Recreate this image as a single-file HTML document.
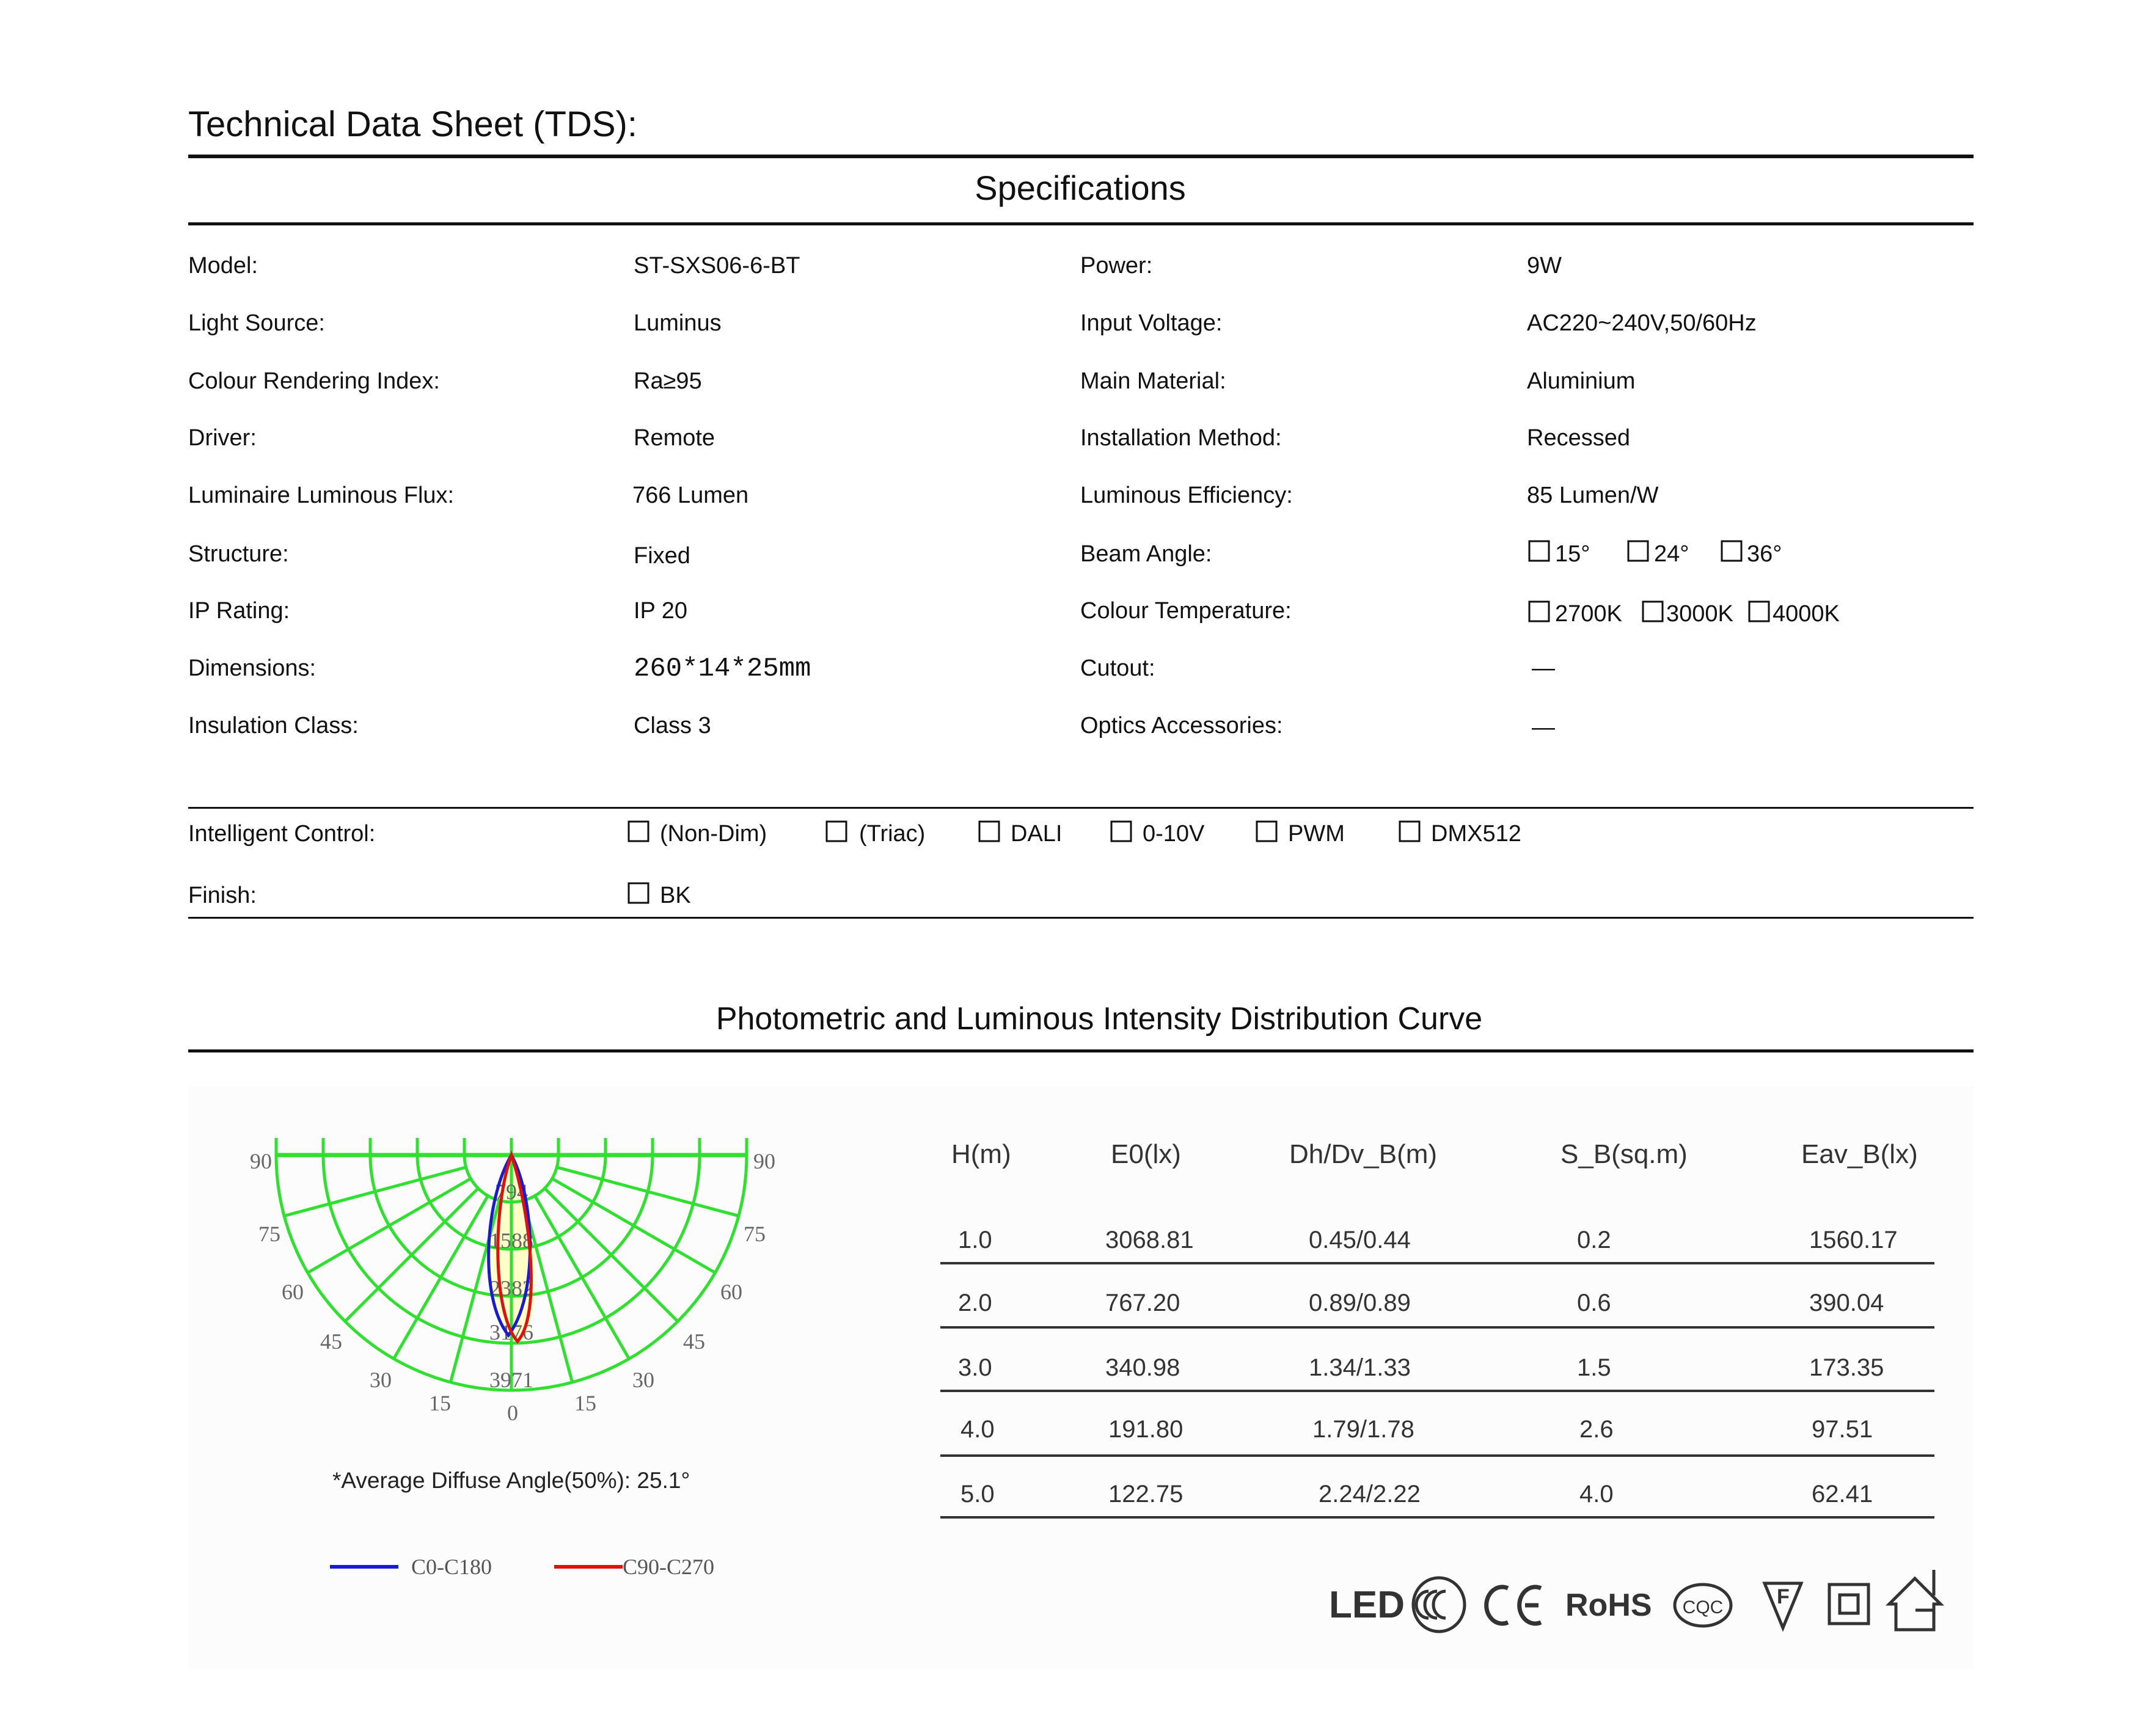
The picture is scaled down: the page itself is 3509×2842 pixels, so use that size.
<!DOCTYPE html>
<html><head><meta charset="utf-8"><style>html,body{margin:0;padding:0;background:#fff}svg{display:block}</style></head><body>
<svg xmlns="http://www.w3.org/2000/svg" width="3509" height="2842" viewBox="0 0 3509 2842">
<rect width="3509" height="2842" fill="#fff"/>
<g font-family="Liberation Sans, sans-serif" fill="#111">
<text x="308" y="223" font-size="58">Technical  Data Sheet (TDS):</text>
<rect x="308" y="253" width="2922" height="6" fill="#111"/>
<text x="1768" y="327" font-size="56" text-anchor="middle">Specifications</text>
<rect x="308" y="364" width="2922" height="5" fill="#111"/>
<g font-size="38">
<text x="308" y="447">Model:</text><text x="1037" y="447">ST-SXS06-6-BT</text><text x="1768" y="447">Power:</text><text x="2499" y="447">9W</text>
<text x="308" y="541">Light Source:</text><text x="1037" y="541">Luminus</text><text x="1768" y="541">Input Voltage:</text><text x="2499" y="541">AC220~240V,50/60Hz</text>
<text x="308" y="636">Colour Rendering Index:</text><text x="1037" y="636">Ra≥95</text><text x="1768" y="636">Main Material:</text><text x="2499" y="636">Aluminium</text>
<text x="308" y="729">Driver:</text><text x="1037" y="729">Remote</text><text x="1768" y="729">Installation Method:</text><text x="2499" y="729">Recessed</text>
<text x="308" y="823">Luminaire Luminous Flux:</text><text x="1035" y="823">766  Lumen</text><text x="1768" y="823">Luminous Efficiency:</text><text x="2499" y="823">85  Lumen/W</text>
<text x="308" y="919">Structure:</text><text x="1037" y="922">Fixed</text><text x="1768" y="919">Beam Angle:</text>
<text x="2545" y="919">15°</text><text x="2707" y="919">24°</text><text x="2859" y="919">36°</text>
<text x="308" y="1012">IP Rating:</text><text x="1037" y="1012">IP 20</text><text x="1768" y="1012">Colour Temperature:</text>
<text x="2545" y="1017">2700K</text><text x="2727" y="1017">3000K</text><text x="2901" y="1017">4000K</text>
<text x="308" y="1106">Dimensions:</text><text x="1037" y="1106" font-family="Liberation Mono, monospace" font-size="44">260*14*25mm</text><text x="1768" y="1106">Cutout:</text><text x="2507" y="1106">—</text>
<text x="308" y="1200">Insulation Class:</text><text x="1037" y="1200">Class 3</text><text x="1768" y="1200">Optics Accessories:</text><text x="2507" y="1203">—</text>
</g>
<g fill="none" stroke="#111" stroke-width="3">
<rect x="2503" y="886" width="32" height="32"/><rect x="2665" y="886" width="32" height="32"/><rect x="2818" y="886" width="32" height="32"/>
<rect x="2503" y="985" width="32" height="32"/><rect x="2689" y="985" width="32" height="32"/><rect x="2863" y="985" width="32" height="32"/>
</g>
<rect x="308" y="1321" width="2922" height="3" fill="#111"/>
<g font-size="38">
<text x="308" y="1377">Intelligent Control:</text>
<text x="1080" y="1377">(Non-Dim)</text><text x="1406" y="1377">(Triac)</text><text x="1654" y="1377">DALI</text><text x="1870" y="1377">0-10V</text><text x="2108" y="1377">PWM</text><text x="2342" y="1377">DMX512</text>
<text x="308" y="1478">Finish:</text><text x="1080" y="1478">BK</text>
</g>
<g fill="none" stroke="#111" stroke-width="3">
<rect x="1029" y="1345" width="32" height="32"/><rect x="1353" y="1345" width="32" height="32"/><rect x="1603" y="1345" width="32" height="32"/><rect x="1819" y="1345" width="32" height="32"/><rect x="2057" y="1345" width="32" height="32"/><rect x="2291" y="1345" width="32" height="32"/>
<rect x="1029" y="1446" width="32" height="32"/>
</g>
<rect x="308" y="1501" width="2922" height="3" fill="#111"/>
<text x="1799" y="1685" font-size="52" text-anchor="middle">Photometric and Luminous Intensity Distribution Curve</text>
<rect x="308" y="1718" width="2922" height="5" fill="#111"/>
</g>
<rect x="308" y="1778" width="2922" height="955" fill="#fcfcfc"/>
<!-- polar chart -->
<g transform="translate(837,1891)">
<path d="M0,0 C-38,80 -46,230 -2,299 C8,310 20,305 22,300 C55,230 40,80 0,0Z" fill="#ffffc8"/>
<g fill="none" stroke="#2fe02f" stroke-width="5">
<line x1="-385" y1="0" x2="385" y2="0" stroke-width="7"/>
<path d="M-77,0 A77 77 0 0 0 77,0"/><path d="M-154,0 A154 154 0 0 0 154,0"/><path d="M-231,0 A231 231 0 0 0 231,0"/><path d="M-308,0 A308 308 0 0 0 308,0"/><path d="M-385,0 A385 385 0 0 0 385,0"/>
<line x1="0" y1="-28" x2="0" y2="385"/>
<line x1="-77" y1="-28" x2="-77" y2="0"/><line x1="77" y1="-28" x2="77" y2="0"/><line x1="-154" y1="-28" x2="-154" y2="0"/><line x1="154" y1="-28" x2="154" y2="0"/><line x1="-231" y1="-28" x2="-231" y2="0"/><line x1="231" y1="-28" x2="231" y2="0"/><line x1="-308" y1="-28" x2="-308" y2="0"/><line x1="308" y1="-28" x2="308" y2="0"/><line x1="-385" y1="-28" x2="-385" y2="0"/><line x1="385" y1="-28" x2="385" y2="0"/>
<line x1="19.9" y1="74.4" x2="99.6" y2="371.9"/><line x1="-19.9" y1="74.4" x2="-99.6" y2="371.9"/>
<line x1="38.5" y1="66.7" x2="192.5" y2="333.4"/><line x1="-38.5" y1="66.7" x2="-192.5" y2="333.4"/>
<line x1="54.4" y1="54.4" x2="272.2" y2="272.2"/><line x1="-54.4" y1="54.4" x2="-272.2" y2="272.2"/>
<line x1="66.7" y1="38.5" x2="333.4" y2="192.5"/><line x1="-66.7" y1="38.5" x2="-333.4" y2="192.5"/>
<line x1="74.4" y1="19.9" x2="371.9" y2="99.6"/><line x1="-74.4" y1="19.9" x2="-371.9" y2="99.6"/>
</g>
<g font-family="Liberation Serif, serif" font-size="36" fill="#666" text-anchor="middle">
<text x="0" y="72">794</text><text x="0" y="152">1588</text><text x="0" y="230">2382</text><text x="0" y="302">3176</text><text x="0" y="380">3971</text>
</g>
<path d="M0,0 C-42,70 -55,230 -5,295 C45,230 38,70 0,0Z" fill="none" stroke="#1a1ad0" stroke-width="5"/>
<path d="M0,0 C-32,90 -30,260 10,305 C50,260 30,90 0,0Z" fill="none" stroke="#e01010" stroke-width="5"/>
</g>
<g font-family="Liberation Serif, serif" font-size="36" fill="#666" text-anchor="middle">
<text x="427" y="1913">90</text><text x="1251" y="1913">90</text>
<text x="441" y="2032">75</text><text x="1235" y="2032">75</text>
<text x="479" y="2127">60</text><text x="1197" y="2127">60</text>
<text x="542" y="2208">45</text><text x="1136" y="2208">45</text>
<text x="623" y="2271">30</text><text x="1053" y="2271">30</text>
<text x="720" y="2309">15</text><text x="958" y="2309">15</text>
<text x="839" y="2325">0</text>
</g>
<text x="544" y="2436" font-family="Liberation Sans, sans-serif" font-size="37" fill="#222">*Average Diffuse Angle(50%): 25.1°</text>
<rect x="540" y="2562" width="112" height="6" fill="#1a1ad0"/>
<rect x="907" y="2562" width="112" height="6" fill="#e01010"/>
<g font-family="Liberation Serif, serif" font-size="36" fill="#555">
<text x="673" y="2577">C0-C180</text><text x="1019" y="2577">C90-C270</text>
</g>
<!-- table -->
<g font-family="Liberation Sans, sans-serif" font-size="44" fill="#333">
<text x="1557" y="1904">H(m)</text><text x="1818" y="1904">E0(lx)</text><text x="2110" y="1904">Dh/Dv_B(m)</text><text x="2554" y="1904">S_B(sq.m)</text><text x="2948" y="1904">Eav_B(lx)</text>
</g>
<g font-family="Liberation Sans, sans-serif" font-size="40" fill="#333">
<text x="1568" y="2043">1.0</text><text x="1809" y="2043">3068.81</text><text x="2142" y="2043">0.45/0.44</text><text x="2581" y="2043">0.2</text><text x="2961" y="2043">1560.17</text>
<text x="1568" y="2146">2.0</text><text x="1809" y="2146">767.20</text><text x="2142" y="2146">0.89/0.89</text><text x="2581" y="2146">0.6</text><text x="2961" y="2146">390.04</text>
<text x="1568" y="2252">3.0</text><text x="1809" y="2252">340.98</text><text x="2142" y="2252">1.34/1.33</text><text x="2581" y="2252">1.5</text><text x="2961" y="2252">173.35</text>
<text x="1572" y="2353">4.0</text><text x="1814" y="2353">191.80</text><text x="2148" y="2353">1.79/1.78</text><text x="2585" y="2353">2.6</text><text x="2965" y="2353">97.51</text>
<text x="1572" y="2459">5.0</text><text x="1814" y="2459">122.75</text><text x="2158" y="2459">2.24/2.22</text><text x="2585" y="2459">4.0</text><text x="2965" y="2459">62.41</text>
</g>
<g fill="#333">
<rect x="1539" y="2066" width="1627" height="4"/><rect x="1539" y="2171" width="1627" height="4"/><rect x="1539" y="2275" width="1627" height="4"/><rect x="1539" y="2381" width="1627" height="4"/><rect x="1539" y="2482" width="1627" height="4"/>
</g>
<!-- logos -->
<g fill="#333" font-family="Liberation Sans, sans-serif" font-weight="bold">
<text x="2175" y="2648" font-size="62">LED</text>
<text x="2562" y="2645" font-size="52">RoHS</text>
</g>
<g fill="none" stroke="#333" stroke-width="7">
<path d="M2468,2600 a26 30 0 1 0 0,56"/>
<path d="M2522,2600 a26 30 0 1 0 0,56"/>
<line x1="2496" y1="2628" x2="2518" y2="2628"/>
</g>
<g fill="none" stroke="#333" stroke-width="5">
<ellipse cx="2355" cy="2627" rx="42" ry="44"/>
<path d="M2338,2605 a20 22 0 1 0 0,44"/><path d="M2352,2605 a20 22 0 1 0 0,44"/><path d="M2366,2605 a20 22 0 1 0 0,44"/>
<ellipse cx="2787" cy="2628" rx="46" ry="34"/>
<path d="M2888,2592 L2948,2592 L2918,2665 Z"/>
<rect x="2994" y="2594" width="64" height="64"/><rect x="3011" y="2611" width="30" height="30"/>
<path d="M3103,2668 L3103,2626 L3092,2626 L3134,2584 L3176,2626 L3165,2626 L3165,2668 Z"/>
<line x1="3165" y1="2612" x2="3165" y2="2570"/><line x1="3135" y1="2636" x2="3165" y2="2636"/>
</g>
<text x="2787" y="2641" font-family="Liberation Sans, sans-serif" font-size="30" fill="#333" text-anchor="middle">CQC</text>
<text x="2908" y="2625" font-family="Liberation Sans, sans-serif" font-size="34" font-weight="bold" fill="#333">F</text>
</svg>
</body></html>
